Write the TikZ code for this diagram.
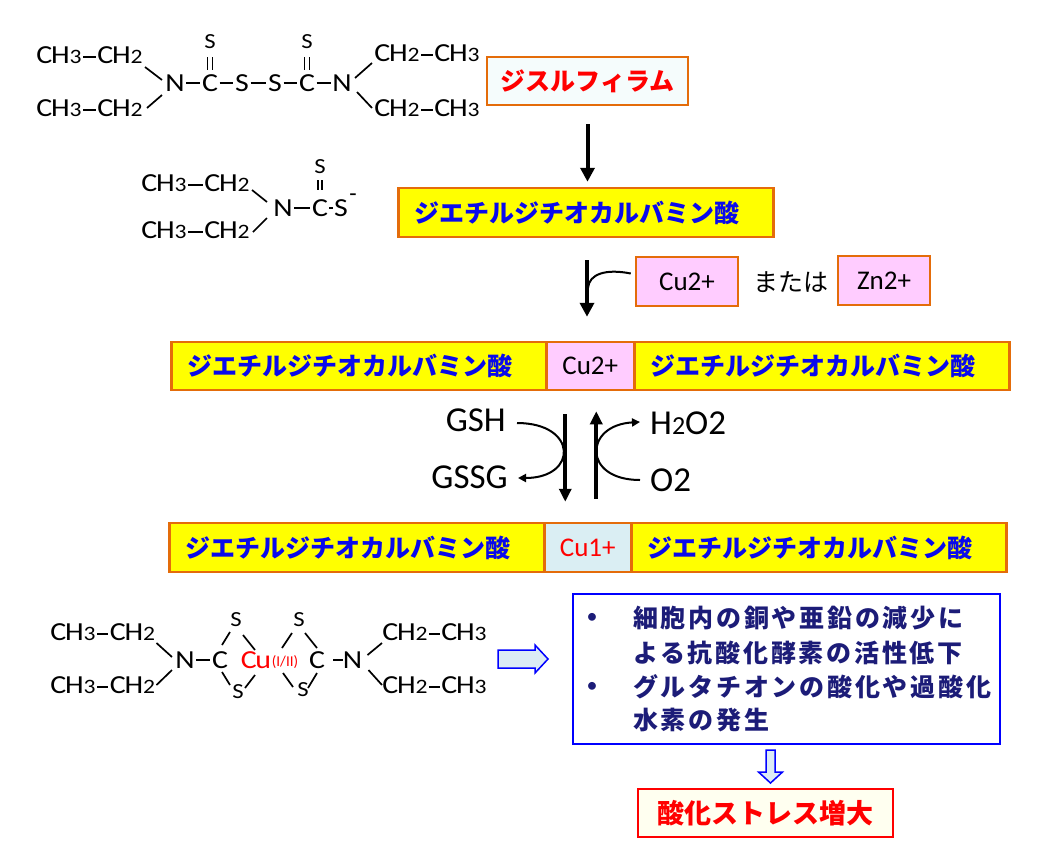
\documentclass[tikz,border=0pt]{standalone}
\usepackage{fontspec}
\setmainfont{Carlito}
\newfontfamily\chemf[FakeStretch=1.15,LetterSpace=-5]{Carlito}
\newfontfamily\jp{Noto Sans CJK JP}
\newfontfamily\jpsp[LetterSpace=11]{Noto Sans CJK JP}
\usetikzlibrary{arrows.meta,calc}
\definecolor{orng}{RGB}{228,108,10}
\definecolor{ylw}{RGB}{255,255,0}
\definecolor{pnk}{RGB}{255,204,255}
\definecolor{lblue}{RGB}{218,238,243}
\definecolor{dtcblue}{RGB}{10,10,235}
\definecolor{navy2}{RGB}{28,28,120}
\definecolor{azure2}{RGB}{245,252,252}
\definecolor{ivory2}{RGB}{255,255,240}
\definecolor{hfill}{RGB}{220,235,245}
\newcommand\chsub[1]{{\fontsize{20.5}{22}\selectfont #1}}
\newcommand\chb[2]{\draw[hbond] ([shift={(0,2)}]#1.east) -- ([shift={(0,2)}]#2.west);}
\tikzset{
 atom/.style={inner sep=0pt, font=\chemf\fontsize{26}{30}\selectfont, text height=16.7pt, text depth=0pt},
 satom/.style={atom, font=\chemf\fontsize{21.5}{24}\selectfont, text height=13.8pt},
 bond/.style={line width=1.7pt},
 hbond/.style={bond, shorten <=1.5pt, shorten >=1.5pt},
 frame/.style={draw=orng, line width=2.5pt, inner sep=0pt, minimum height=48pt},
 dtcbox/.style={frame, fill=ylw, text=dtcblue, font=\jp\bfseries\fontsize{25}{30}\selectfont, text width=343pt, inner xsep=16pt, align=left, anchor=west},
 ionbox/.style={frame, fill=pnk, font=\fontsize{27}{30}\selectfont},
 bigarrow/.style={line width=4pt, -{Triangle[length=14pt,width=14pt]}},
 redox/.style={line width=4pt, -{Triangle[length=13pt,width=12pt]}},
 thinarrow/.style={line width=2pt, -{Triangle[length=8pt,width=8pt]}},
 rlabel/.style={inner sep=0pt, font=\fontsize{35}{40}\selectfont, text height=22.5pt, text depth=0pt},
 hollow/.style={draw=blue, line width=1.5pt, fill=hfill, line join=miter},
 bullettext/.style={inner sep=0pt, anchor=west, text=navy2, font=\jpsp\bfseries\fontsize{25}{30}\selectfont},
 bulletdot/.style={inner sep=0pt, text=navy2, font=\fontsize{22}{26}\selectfont},
}
\begin{document}
\begin{tikzpicture}[x=1pt,y=-1pt]
\fill[white] (0,0) rectangle (1040,860);
\useasboundingbox (0,0) rectangle (1040,860);

% ---------- top molecule (disulfiram) ----------
\node[atom] (t1) at (59,55) {CH\chsub{3}};
\node[atom] (t2) at (120,55) {CH\chsub{2}};
\node[atom] (t3) at (59,108) {CH\chsub{3}};
\node[atom] (t4) at (120,108) {CH\chsub{2}};
\node[atom] (tN1) at (175,83) {N};
\node[atom] (tC1) at (210,83) {C};
\node[satom] (tS1) at (210,42) {S};
\node[atom] (tS2) at (242,83) {S};
\node[atom] (tS3) at (275,83) {S};
\node[atom] (tC2) at (307,83) {C};
\node[satom] (tS4) at (307,42) {S};
\node[atom] (tN2) at (342,83) {N};
\node[atom] (t5) at (397,53) {CH\chsub{2}};
\node[atom] (t6) at (457,53) {CH\chsub{3}};
\node[atom] (t7) at (397,108) {CH\chsub{2}};
\node[atom] (t8) at (457,108) {CH\chsub{3}};
\chb{t1}{t2} \chb{t3}{t4} \chb{t5}{t6} \chb{t7}{t8}
\draw[bond] ([shift={(25,12)}]t2.center) -- ([shift={(-13,-3)}]tN1.center);
\draw[bond] ([shift={(27,0)}]t4.center) -- ([shift={(-13,12)}]tN1.center);
\draw[hbond] (tN1) -- (tC1);
\draw[hbond] (tC1) -- (tS2);
\draw[hbond] (tS2) -- (tS3);
\draw[hbond] (tS3) -- (tC2);
\draw[hbond] (tC2) -- (tN2);
\draw[bond] ([shift={(13,-5)}]tN2.center) -- ([shift={(-25,10)}]t5.center);
\draw[bond] ([shift={(15,9)}]tN2.center) -- ([shift={(-25,0)}]t7.center);
\draw[bond] ([shift={(-2.5,15)}]tS1.center) -- ([shift={(-2.5,-13)}]tC1.center);
\draw[bond] ([shift={(2.5,15)}]tS1.center) -- ([shift={(2.5,-13)}]tC1.center);
\draw[bond] ([shift={(-2.5,15)}]tS4.center) -- ([shift={(-2.5,-13)}]tC2.center);
\draw[bond] ([shift={(2.5,15)}]tS4.center) -- ([shift={(2.5,-13)}]tC2.center);

\node[frame, fill=azure2, minimum width=201pt, text=red, font=\jp\bfseries\fontsize{25}{30}\selectfont] (disul) at (587.5,81) {ジスルフィラム};

% ---------- middle molecule ----------
\node[atom] (m1) at (164,183) {CH\chsub{3}};
\node[atom] (m2) at (227,183) {CH\chsub{2}};
\node[atom] (m3) at (164,230) {CH\chsub{3}};
\node[atom] (m4) at (227,230) {CH\chsub{2}};
\node[atom] (mN) at (283,208) {N};
\node[atom] (mC) at (320,208) {C};
\node[satom] (mS1) at (320,167) {S};
\node[atom] (mS2) at (341,208) {S};
\node[inner sep=0pt, font=\fontsize{24}{26}\selectfont] (mMinus) at ([shift={(12,-10)}]mS2.center) {-};
\chb{m1}{m2} \chb{m3}{m4}
\draw[bond] ([shift={(25,7)}]m2.center) -- ([shift={(-16,-6)}]mN.center);
\draw[bond] ([shift={(26,2)}]m4.center) -- ([shift={(-16,10)}]mN.center);
\draw[hbond] (mN) -- (mC);
\draw[bond, shorten <=1pt, shorten >=1pt] (mC) -- (mS2);
\draw[bond] ([shift={(-2,13)}]mS1.center) -- ([shift={(-2,-18)}]mC.center);
\draw[bond] ([shift={(2,13)}]mS1.center) -- ([shift={(2,-18)}]mC.center);

\node[dtcbox, minimum height=49pt] (dtc) at (397,212.5) {ジエチルジチオカルバミン酸};

\draw[bigarrow, shorten <=18pt, shorten >=5pt] (disul.south) -- (disul.south |- dtc.north);

% ---------- metal ions ----------
\node[ionbox, minimum width=102pt, minimum height=49pt] (cu2a) at (687,281.5) {Cu2+};
\node[inner sep=0pt, font=\jp\fontsize{25}{30}\selectfont] (mataha) at (790.5,282) {または};
\node[ionbox, minimum width=92pt, minimum height=49pt] (zn2) at (884,280.5) {Zn2+};

% ---------- row 3 ----------
\node[dtcbox] (r3l) at (170,366) {ジエチルジチオカルバミン酸};
\node[ionbox, minimum width=88pt, anchor=west] (r3c) at (545,366) {Cu2+};
\node[dtcbox] (r3r) at (633,366) {ジエチルジチオカルバミン酸};

\coordinate (a2top) at (587,260);
\draw[bigarrow, shorten >=24pt] (a2top) -- (a2top |- r3c.north);
\draw[line width=2pt] ([shift={(1,28)}]a2top) .. controls +(1,-14) and +(-25,-5) .. ([shift={(-4,-8)}]cu2a.west);

% ---------- row 4 ----------
\node[dtcbox, minimum height=49pt] (r4l) at (168,547.5) {ジエチルジチオカルバミン酸};
\node[frame, fill=lblue, text=red, font=\fontsize{27}{30}\selectfont, minimum width=87pt, minimum height=49pt, anchor=west] (r4c) at (543,547.5) {Cu1+};
\node[dtcbox, minimum height=49pt] (r4r) at (630,547.5) {ジエチルジチオカルバミン酸};

% ---------- redox ----------
\draw[redox] ([shift={(-25,23)}]r3c.south) -- ([shift={(-22.5,-20)}]r4c.north);
\draw[redox] ([shift={(8.5,-23)}]r4c.north) -- ([shift={(6,20)}]r3c.south);
\node[rlabel, anchor=east] (gsh) at (506,420) {GSH};
\node[rlabel, anchor=east] (gssg) at (508,477) {GSSG};
\node[rlabel, anchor=west] (h2o2) at (650,423) {H{\fontsize{26}{28}\selectfont 2}O2};
\node[rlabel, anchor=west] (o2) at (650,480) {O2};
\draw[thinarrow] ([shift={(11,3)}]gsh.east) .. controls +(61,0) and +(60,0) .. ([shift={(10,1)}]gssg.east);
\draw[thinarrow] ([shift={(-10,0)}]o2.west) .. controls +(-58,0) and +(-56,3) .. ([shift={(-10,-1)}]h2o2.west);

% ---------- bottom molecule ----------
\node[atom] (b1) at (73,632) {CH\chsub{3}};
\node[atom] (b2) at (132.5,632) {CH\chsub{2}};
\node[atom] (b3) at (73,685) {CH\chsub{3}};
\node[atom] (b4) at (132.5,685) {CH\chsub{2}};
\node[atom] (bN1) at (185,660) {N};
\node[atom] (bC1) at (220,660) {C};
\node[satom] (bS1) at (236,620) {S};
\node[satom] (bS2) at (238,692) {S};
\node[atom, text=red] (bCu) at (256,660) {Cu};
\node[inner sep=0pt, text=red, font=\fontsize{15}{17}\selectfont] (bOx) at (285,662) {(I/II)};
\node[satom] (bS3) at (299,620) {S};
\node[satom] (bS4) at (303,690) {S};
\node[atom] (bC2) at (317,660) {C};
\node[atom] (bN2) at (352.5,660) {N};
\node[atom] (b5) at (405,632) {CH\chsub{2}};
\node[atom] (b6) at (464,632) {CH\chsub{3}};
\node[atom] (b7) at (405,685) {CH\chsub{2}};
\node[atom] (b8) at (464,685) {CH\chsub{3}};
\chb{b1}{b2} \chb{b3}{b4} \chb{b5}{b6} \chb{b7}{b8}
\draw[bond] ([shift={(24,11)}]b2.center) -- ([shift={(-13,-3)}]bN1.center);
\draw[bond] ([shift={(24,0)}]b4.center) -- ([shift={(-13,10)}]bN1.center);
\draw[hbond] (bN1) -- (bC1);
\draw[bond] ([shift={(2,-15)}]bC1.center) -- ([shift={(-6,12)}]bS1.center);
\draw[bond] ([shift={(7,15)}]bS1.center) -- ([shift={(-1,-10)}]bCu.center);
\draw[bond] ([shift={(2,12)}]bC1.center) -- ([shift={(-8,-7)}]bS2.center);
\draw[bond] ([shift={(7,-4)}]bS2.center) -- ([shift={(-1,15)}]bCu.center);
\draw[bond] ([shift={(26,-12)}]bCu.center) -- ([shift={(-7,13)}]bS3.center);
\draw[bond] ([shift={(6,13)}]bS3.center) -- ([shift={(0,-12)}]bC2.center);
\draw[bond] ([shift={(27,13)}]bCu.center) -- ([shift={(-10,-3)}]bS4.center);
\draw[bond] ([shift={(5,-2)}]bS4.center) -- ([shift={(0,13)}]bC2.center);
\draw[bond, shorten <=8pt] (bC2.east) -- (bN2.west);
\draw[bond] ([shift={(15,-5)}]bN2.center) -- ([shift={(-23,11)}]b5.center);
\draw[bond] ([shift={(16,10)}]bN2.center) -- ([shift={(-23,0)}]b7.center);

% ---------- hollow arrow right ----------
\coordinate (ha) at (498,659);
\draw[hollow] (ha) ++(0,-9) -- ++(37,0) -- ++(0,-5) -- ++(13,14) -- ++(-13,14) -- ++(0,-5) -- ++(-37,0) -- cycle;

% ---------- effects box ----------
\node[draw=blue, line width=2pt, fill=white, minimum width=427pt, minimum height=150pt, inner sep=0pt] (effects) at (786.5,669) {};
\node[bulletdot] (bu1) at (592,618) {•};
\node[bulletdot] (bu2) at (592,687) {•};
\node[bullettext] (l1) at (633,618) {細胞内の銅や亜鉛の減少に};
\node[bullettext] (l2) at (633,653) {よる抗酸化酵素の活性低下};
\node[bullettext] (l3) at (633,687) {グルタチオンの酸化や過酸化};
\node[bullettext] (l4) at (633,720) {水素の発生};

% ---------- hollow arrow down ----------
\coordinate (hb) at (770.5,750);
\draw[hollow] (hb) ++(-4.5,0) -- ++(0,22) -- ++(-7.5,0) -- ++(12,11) -- ++(12,-11) -- ++(-7.5,0) -- ++(0,-22) -- cycle;

\node[draw=red, line width=2pt, fill=ivory2, minimum width=255pt, minimum height=48pt, text=red, font=\jp\bfseries\fontsize{27}{32}\selectfont] (stress) at (765.5,813) {酸化ストレス増大};
\end{tikzpicture}
\end{document}
